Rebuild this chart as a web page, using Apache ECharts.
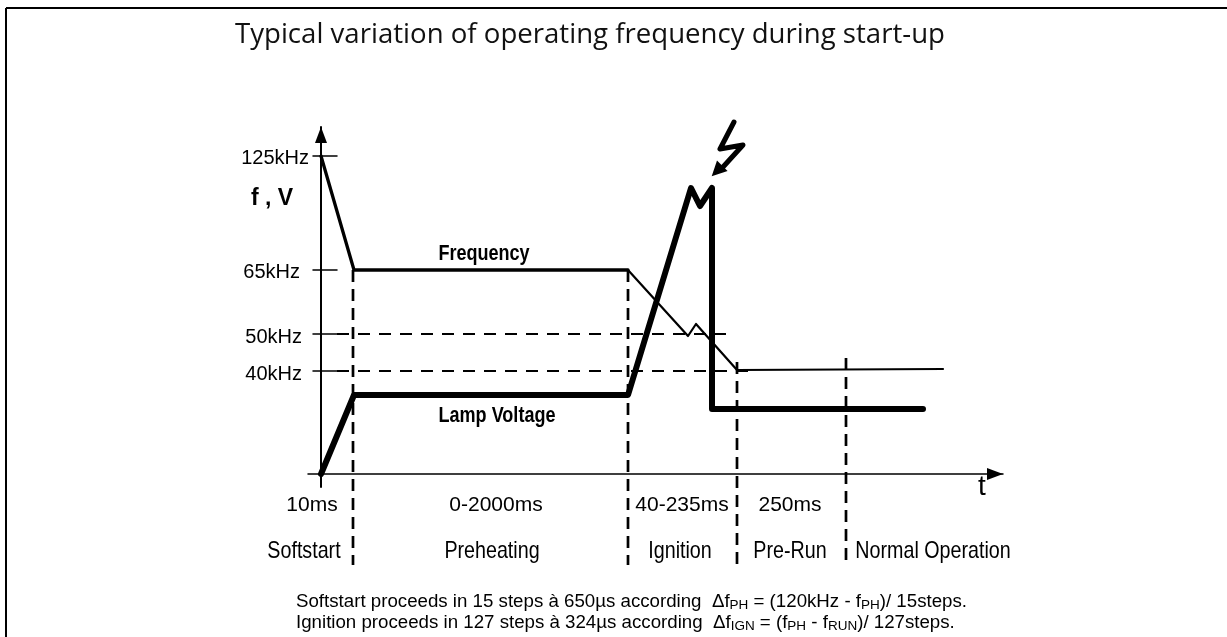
<!DOCTYPE html>
<html>
<head>
<meta charset="utf-8">
<style>
html, body { margin: 0; padding: 0; background: #fff; }
#chart { width: 1227px; height: 637px; }
</style>
<script src="https://cdn.jsdelivr.net/npm/echarts@6/dist/echarts.min.js"></script>
</head>
<body>
<div id="chart"></div>
<script>
// schematic units, the source picture has no real scale on either axis
var freqStartTime   = [0, 33, 307];
var freqStartLevel  = [318, 204, 204];
var freqIgnTime     = [307, 367, 375, 416, 622];
var freqIgnLevel    = [204, 138, 150, 104, 105];
var lampTime        = [0, 33, 307, 370, 379, 391, 391, 602];
var lampLevel       = [0, 79, 79, 286, 268, 286, 65, 65];

var tickLevels      = [318, 204, 140, 103];
var tickLabels      = ['125kHz', '65kHz', '50kHz', '40kHz'];
var tickLabelStyles = ['t0', 't9', 't7', 't7'];

var phaseTime       = [32, 307, 416, 525];
var phaseTop        = [204, 204, 112, 116];
var phaseBottom     = -91;
var refLevels       = [140, 103];
var refEnd          = [405, 429];

var durationNames   = ['10ms', '0-2000ms', '40-235ms', '250ms'];
var durationTime    = [-9, 175, 361, 469];
var phaseNames      = ['Softstart', 'Preheating', 'Ignition', 'Pre-Run', 'Normal Operation'];
var phaseNameTime   = [-17, 171, 359, 469, 612];

var boltTime        = [413, 399, 422, 402];
var boltLevel       = [352, 325, 329, 307];

function pairs(xs, ys)
{
    return xs.map(function(x, i) { return [x, ys[i]]; });
}

function curve(name, xs, ys, width)
{
    return {
        name: name,
        type: 'line',
        data: pairs(xs, ys),
        symbol: 'none',
        clip: false,
        silent: true,
        lineStyle: { color: '#000', width: width, cap: 'round', join: 'round' }
    };
}

function dashed(name, data, width, pattern)
{
    return {
        name: name,
        type: 'line',
        data: data,
        symbol: 'none',
        clip: false,
        silent: true,
        lineStyle: { color: '#000', width: width, type: pattern }
    };
}

function textSeries(name, data, font)
{
    return {
        name: name,
        type: 'scatter',
        data: data,
        symbolSize: 0,
        clip: false,
        silent: true,
        itemStyle: { opacity: 1 },
        label: {
            show: true,
            position: 'inside',
            color: '#000',
            fontFamily: font.family,
            fontSize: font.size,
            fontWeight: font.weight || 'normal',
            formatter: function(p) { return p.name; }
        }
    };
}

// the narrow labels of the original: no condensed font here, so squeeze the text
function narrowText(name, texts, points, size, weight)
{
    return {
        name: name,
        type: 'custom',
        data: points,
        clip: false,
        silent: true,
        renderItem: function(params, api)
        {
            var pt = api.coord([api.value(0), api.value(1)]);
            return {
                type: 'text',
                x: pt[0],
                y: pt[1],
                scaleX: 0.82,
                style: {
                    text: texts[params.dataIndex],
                    fill: '#000',
                    fontFamily: arial,
                    fontSize: size,
                    fontWeight: weight,
                    align: 'center',
                    verticalAlign: 'middle'
                }
            };
        }
    };
}

var arial  = 'Liberation Sans';
var series = [];

phaseTime.forEach(function(t, i)
{
    series.push(dashed('phase' + i, [[t, phaseTop[i]], [t, phaseBottom]], 2.7, [12, 7]));
});
refLevels.forEach(function(v, i)
{
    series.push(dashed('ref' + i, [[16, v], [refEnd[i], v]], 2, [12, 9]));
});

tickLevels.forEach(function(v, i)
{
    series.push(curve('tick' + i, [-8, 16], [v, v], 1.5));
});

series.push(curve('Frequency start', freqStartTime, freqStartLevel, 3.3));
series.push(curve('Frequency ignition', freqIgnTime, freqIgnLevel, 2.2));
series.push(curve('Lamp Voltage', lampTime, lampLevel, 6));
series.push(curve('Bolt', boltTime, boltLevel, 5));
series.push({
    name: 'Bolt head',
    type: 'scatter',
    data: [[396, 303]],
    symbol: 'triangle',
    symbolSize: [15, 15],
    symbolRotate: 135,
    clip: false,
    silent: true,
    itemStyle: { color: '#000', opacity: 1 }
});

series.push(narrowText('Curve names', ['Frequency', 'Lamp Voltage'], [[163, 220], [176, 58]], 22, 'bold'));
series.push(textSeries('Axis name f', [{ name: 'f , V', value: [-49, 275] }], { family: arial, size: 23, weight: 'bold' }));
series.push(textSeries('Axis name t', [{ name: 't', value: [661, -13] }], { family: arial, size: 28 }));
series.push(textSeries('Durations', durationNames.map(function(n, i)
{
    return { name: n, value: [durationTime[i], -31] };
}), { family: arial, size: 21 }));
series.push(narrowText('Phases', phaseNames, phaseNameTime.map(function(t) { return [t, -77]; }), 24, 'normal'));

var subStyle = { fontFamily: arial, fontSize: 13.5, padding: [8, 0, 0, 0], fill: '#000' };

var chart = echarts.init(document.getElementById('chart'));
chart.setOption({
    animation: false,
    backgroundColor: '#fff',
    title: {
        text: 'Typical variation of operating frequency during start-up',
        left: 235,
        top: 21,
        padding: 0,
        textStyle: { color: '#111', fontFamily: 'Open Sans', fontSize: 27.6, fontWeight: 'normal' }
    },
    grid: { left: 308, right: 224, top: 127, bottom: 150 },
    xAxis: {
        type: 'value',
        min: -13,
        max: 682,
        splitLine: { show: false },
        axisTick: { show: false },
        axisLabel: { show: false },
        axisLine: {
            onZero: true,
            lineStyle: { color: '#000', width: 1.5 },
            symbol: ['none', 'triangle'],
            symbolSize: [12, 16],
            symbolOffset: [0, -8]
        }
    },
    yAxis: {
        type: 'value',
        min: -13,
        max: 347,
        splitLine: { show: false },
        axisTick: { show: false },
        axisLine: {
            onZero: true,
            lineStyle: { color: '#000', width: 2 },
            symbol: ['none', 'triangle'],
            symbolSize: [12, 16],
            symbolOffset: [0, -8]
        },
        axisLabel: {
            show: true,
            margin: -1,
            customValues: tickLevels,
            color: '#000',
            fontFamily: arial,
            fontSize: 20,
            formatter: function(v)
            {
                var i = tickLevels.indexOf(v);
                return '{' + tickLabelStyles[i] + '|' + tickLabels[i] + '}';
            },
            rich: {
                t0: { fontFamily: arial, fontSize: 20, padding: [5, 0, 0, 0] },
                t9: { fontFamily: arial, fontSize: 20, padding: [5, 9, 0, 0] },
                t7: { fontFamily: arial, fontSize: 20, padding: [7, 7, 0, 0] }
            }
        }
    },
    graphic: [
        { type: 'line', shape: { x1: 6, y1: 8, x2: 1227, y2: 8 }, style: { stroke: '#000', lineWidth: 2 } },
        { type: 'line', shape: { x1: 6, y1: 8, x2: 6, y2: 637 }, style: { stroke: '#000', lineWidth: 2 } },
        {
            type: 'text',
            left: 296,
            top: 592,
            style: {
                text: 'Softstart proceeds in 15 steps à 650µs according  Δf{s|PH} = (120kHz - f{s|PH})/ 15steps.',
                fontFamily: arial,
                fontSize: 18.7,
                fill: '#000',
                rich: { s: subStyle }
            }
        },
        {
            type: 'text',
            left: 296,
            top: 613,
            style: {
                text: 'Ignition proceeds in 127 steps à 324µs according  Δf{s|IGN} = (f{s|PH} - f{s|RUN})/ 127steps.',
                fontFamily: arial,
                fontSize: 18.7,
                fill: '#000',
                rich: { s: subStyle }
            }
        }
    ],
    series: series
});
</script>
</body>
</html>
